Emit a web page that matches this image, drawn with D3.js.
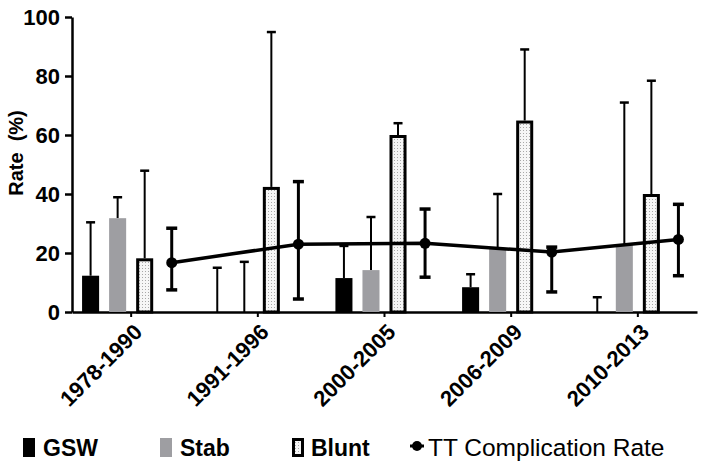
<!DOCTYPE html>
<html>
<head>
<meta charset="utf-8">
<script src="https://cdn.jsdelivr.net/npm/d3@7"></script>
<style>
  html, body { margin: 0; padding: 0; background: #fff; }
  svg { display: block; font-family: "Liberation Sans", Arial, Helvetica, sans-serif; }
</style>
</head>
<body>
<svg id="chart" width="704" height="468"></svg>
<script>
// ---- data ----
const categories = ["1978-1990", "1991-1996", "2000-2005", "2006-2009", "2010-2013"];
const seriesNames = ["GSW", "Stab", "Blunt", "TT"];
const gswValues   = [12.3, 0, 11.5, 8.4, 0];
const gswUpper    = [30.4, 15, 22.4, 12.8, 5];
const stabValues  = [31.8, 0, 14.2, 21.6, 22.7];
const stabUpper   = [38.9, 17, 32.2, 40, 71];
const bluntValues = [18.2, 42.4, 60, 64.9, 40];
const bluntUpper  = [47.9, 94.9, 64, 89, 78.4];
const ttValues    = [16.7, 23, 23.3, 20.3, 24.6];
const ttLower     = [7.5, 4.4, 11.8, 6.8, 12.3];
const ttUpper     = [28.4, 44.2, 34.9, 22, 36.5];
const yTicks      = [0, 20, 40, 60, 80, 100];
const legendLabels = ["GSW", "Stab", "Blunt", "TT Complication Rate"];

// ---- layout ----
const svg = d3.select("#chart");
const plotLeft = 72, plotRight = 697, plotTop = 17, plotBottom = 312;
const FONT = '"Liberation Sans", Arial, Helvetica, sans-serif';

const x0 = d3.scaleBand().domain(categories).range([plotLeft, plotRight]).paddingInner(0.146).paddingOuter(0.04);
const x1 = d3.scaleBand().domain(seriesNames).range([0, x0.bandwidth()]).paddingInner(0.37).paddingOuter(0.185);
const y = d3.scaleLinear().domain([0, 100]).range([plotBottom, plotTop]);
const bw = x1.bandwidth();
const cx = (cat, s) => x0(cat) + x1(s) + bw / 2;

// pattern for Blunt
const defs = svg.append("defs");
const pat = defs.append("pattern").attr("id", "dots").attr("patternUnits", "userSpaceOnUse")
  .attr("width", 3).attr("height", 3);
pat.append("rect").attr("width", 3).attr("height", 3).attr("fill", "#f6f6f6");
pat.append("rect").attr("x", 1).attr("y", 1).attr("width", 1).attr("height", 1).attr("fill", "#a8a8a8");

// ---- axes ----
const yAxis = svg.append("g").attr("transform", `translate(${plotLeft},0)`)
  .call(d3.axisLeft(y).tickValues(yTicks).tickSize(7).tickSizeOuter(0).tickPadding(5));
yAxis.select(".domain").attr("stroke", "#000").attr("stroke-width", 2.5);
yAxis.selectAll(".tick line").attr("stroke", "#000").attr("stroke-width", 2.5);
yAxis.selectAll(".tick text").attr("font-family", FONT).attr("font-size", 22)
  .attr("font-weight", "bold").attr("fill", "#000");

const xAxis = svg.append("g").attr("transform", `translate(0,${plotBottom})`)
  .call(d3.axisBottom(x0).tickSize(5).tickSizeOuter(0));
xAxis.select(".domain").attr("stroke", "#000").attr("stroke-width", 2.5);
xAxis.selectAll(".tick line").attr("stroke", "#000").attr("stroke-width", 2);
xAxis.selectAll(".tick text")
  .attr("font-family", FONT).attr("font-size", 22).attr("font-weight", "bold").attr("fill", "#000")
  .attr("text-anchor", "end")
  .attr("x", 0).attr("y", 0).attr("dy", "0.35em")
  .attr("transform", "translate(7,16) rotate(-45)");

// y title
svg.append("text")
  .attr("transform", `translate(23,153) rotate(-90)`)
  .attr("text-anchor", "middle")
  .attr("font-family", FONT).attr("font-size", 20).attr("font-weight", "bold")
  .style("white-space", "pre")
  .text("Rate  (%)");

// ---- bars ----
const barSeries = [
  { name: "GSW", values: gswValues, upper: gswUpper, fill: "#000", stroke: null },
  { name: "Stab", values: stabValues, upper: stabUpper, fill: "#9e9ea2", stroke: null },
  { name: "Blunt", values: bluntValues, upper: bluntUpper, fill: "url(#dots)", stroke: "#000" }
];

const gBars = svg.append("g");
barSeries.forEach(s => {
  const data = categories.map((c, i) => ({ c, v: s.values[i], u: s.upper[i] }));
  const eg = gBars.append("g");
  eg.selectAll("line.v").data(data).join("line")
    .attr("x1", d => cx(d.c, s.name)).attr("x2", d => cx(d.c, s.name))
    .attr("y1", d => y(d.v)).attr("y2", d => y(d.u))
    .attr("stroke", "#000").attr("stroke-width", 2);
  eg.selectAll("line.cap").data(data).join("line")
    .attr("x1", d => cx(d.c, s.name) - 4.5).attr("x2", d => cx(d.c, s.name) + 4.5)
    .attr("y1", d => y(d.u)).attr("y2", d => y(d.u))
    .attr("stroke", "#000").attr("stroke-width", 2.5);
  const rg = gBars.append("g");
  if (s.stroke) {
    rg.selectAll("rect").data(data.filter(d => d.v > 0)).join("rect")
      .attr("x", d => x0(d.c) + x1(s.name) + 1.5)
      .attr("y", d => y(d.v) + 1.5)
      .attr("width", bw - 3)
      .attr("height", d => Math.max(0, y(0) - y(d.v) - 1.5))
      .attr("fill", s.fill).attr("stroke", s.stroke).attr("stroke-width", 3);
  } else {
    rg.selectAll("rect").data(data.filter(d => d.v > 0)).join("rect")
      .attr("x", d => x0(d.c) + x1(s.name))
      .attr("y", d => y(d.v))
      .attr("width", bw)
      .attr("height", d => y(0) - y(d.v))
      .attr("fill", s.fill);
  }
});

// ---- TT line ----
const ttData = categories.map((c, i) => ({ c, v: ttValues[i], lo: ttLower[i], hi: ttUpper[i] }));
const gLine = svg.append("g");
gLine.selectAll("line.err").data(ttData).join("line")
  .attr("x1", d => cx(d.c, "TT")).attr("x2", d => cx(d.c, "TT"))
  .attr("y1", d => y(d.lo)).attr("y2", d => y(d.hi))
  .attr("stroke", "#000").attr("stroke-width", 3);
["lo", "hi"].forEach(k => {
  gLine.append("g").selectAll("line").data(ttData).join("line")
    .attr("x1", d => cx(d.c, "TT") - 5.5).attr("x2", d => cx(d.c, "TT") + 5.5)
    .attr("y1", d => y(d[k])).attr("y2", d => y(d[k]))
    .attr("stroke", "#000").attr("stroke-width", 3.5);
});
gLine.append("path").datum(ttData)
  .attr("d", d3.line().x(d => cx(d.c, "TT")).y(d => y(d.v)))
  .attr("fill", "none").attr("stroke", "#000").attr("stroke-width", 3.5);
gLine.append("g").selectAll("circle").data(ttData).join("circle")
  .attr("cx", d => cx(d.c, "TT")).attr("cy", d => y(d.v)).attr("r", 5.5).attr("fill", "#000");

// ---- legend ----
const lg = svg.append("g");
const legendItems = [
  { label: legendLabels[0], rx: 23, tx: 43, kind: "rect", fill: "#000" },
  { label: legendLabels[1], rx: 160, tx: 180, kind: "rect", fill: "#9e9ea2" },
  { label: legendLabels[2], rx: 292, tx: 311, kind: "blunt" },
  { label: legendLabels[3], rx: 417, tx: 428, kind: "dot" }
];
legendItems.forEach(it => {
  if (it.kind === "rect") {
    lg.append("rect").attr("x", it.rx).attr("y", 438).attr("width", 12).attr("height", 19).attr("fill", it.fill);
  } else if (it.kind === "blunt") {
    lg.append("rect").attr("x", it.rx + 1.5).attr("y", 439.5).attr("width", 9).attr("height", 16)
      .attr("fill", "url(#dots)").attr("stroke", "#000").attr("stroke-width", 3);
  } else {
    lg.append("line").attr("x1", it.rx - 7).attr("x2", it.rx + 7).attr("y1", 446).attr("y2", 446)
      .attr("stroke", "#000").attr("stroke-width", 3);
    lg.append("circle").attr("cx", it.rx).attr("cy", 446).attr("r", 5).attr("fill", "#000");
  }
  lg.append("text").attr("x", it.tx).attr("y", 456)
    .attr("font-family", FONT)
    .attr("font-size", it.kind === "dot" ? 24.5 : 23)
    .attr("font-weight", it.kind === "dot" ? "normal" : "bold")
    .attr("fill", "#000")
    .text(it.label);
});
</script>
</body>
</html>
